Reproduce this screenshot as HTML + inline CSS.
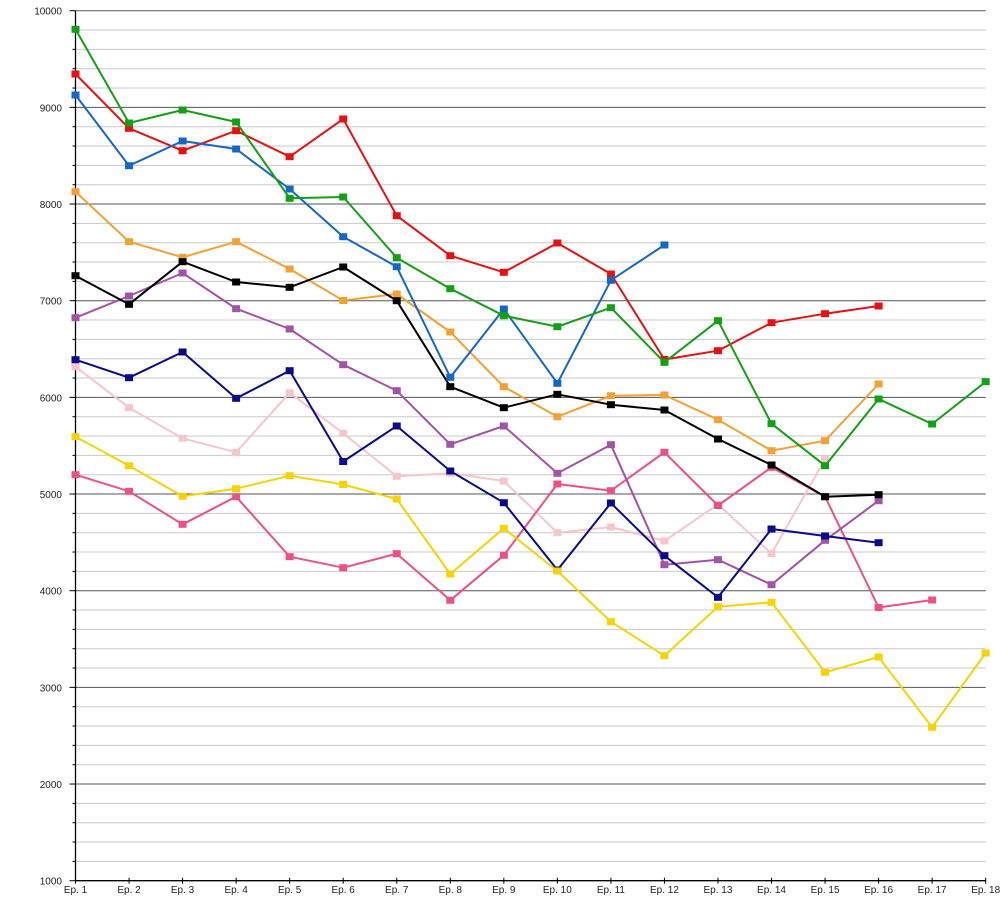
<!DOCTYPE html>
<html>
<head>
<meta charset="utf-8">
<style>
  html, body { margin: 0; padding: 0; background: #fff; }
  svg { display: block; }
  text { font-family: "Liberation Sans", "DejaVu Sans", sans-serif; fill: #222; }
</style>
</head>
<body>
<svg id="chart" width="1000" height="900" viewBox="0 0 1000 900" xmlns="http://www.w3.org/2000/svg">
  <rect x="0" y="0" width="1000" height="900" fill="#ffffff"/>
  <g id="grid"></g>
  <g id="axes"></g>
  <g id="series"></g>
  <g id="labels"></g>
</svg>
<script>
(function(){
  var NS = "http://www.w3.org/2000/svg";
  function el(name, attrs, parent, txt){
    var e = document.createElementNS(NS, name);
    for (var k in attrs) e.setAttribute(k, attrs[k]);
    if (txt !== undefined) e.textContent = txt;
    parent.appendChild(e);
    return e;
  }
  var grid = document.getElementById('grid');
  var axes = document.getElementById('axes');
  var series = document.getElementById('series');
  var labels = document.getElementById('labels');

  var x0 = 75.5, xr = 985.7, dx = 53.54;
  var yTop = 10.7, yBot = 880.7;
  var per = (yBot - yTop) / 9000; // px per unit

  function Y(v){ return yBot - (v - 1000) * per; }
  function X(i){ return x0 + i * dx; }

  // minor gridlines every 200
  for (var v = 1200; v < 10000; v += 200) {
    if (v % 1000 === 0) continue;
    var y = Y(v);
    el('line', {x1: x0, x2: xr, y1: y, y2: y, stroke: '#c9c9c9', 'stroke-width': 1}, grid);
    el('line', {x1: x0 - 3, x2: x0, y1: y, y2: y, stroke: '#000', 'stroke-width': 1}, axes);
  }
  // major gridlines
  for (var v = 1000; v <= 10000; v += 1000) {
    var y = Y(v);
    if (v > 1000) el('line', {x1: x0, x2: xr, y1: y, y2: y, stroke: '#555', 'stroke-width': 1}, grid);
    el('line', {x1: x0 - 6, x2: x0, y1: y, y2: y, stroke: '#000', 'stroke-width': 1}, axes);
    el('text', {x: 62, y: y + 4, 'font-size': 10, 'text-anchor': 'end'}, labels, String(v));
  }
  // axes
  el('line', {x1: x0, x2: x0, y1: yTop, y2: yBot, stroke: '#000', 'stroke-width': 1.3}, axes);
  el('line', {x1: x0, x2: xr, y1: yBot, y2: yBot, stroke: '#000', 'stroke-width': 1.3}, axes);
  // x ticks and labels
  for (var i = 0; i < 18; i++) {
    var x = X(i);
    el('line', {x1: x, x2: x, y1: yBot - 3, y2: yBot + 3, stroke: '#000', 'stroke-width': 1}, axes);
    el('text', {x: x, y: 893, 'font-size': 10, 'text-anchor': 'middle'}, labels, 'Ep. ' + (i + 1));
  }

  var data = [
    ['#f7c6cb', [366.7,407.7,438.3,452.3,392.7,433.3,476.3,473.3,481,532.7,527,541,504.3,553.7,459]],
    ['#ee4f87', [474.7,491.3,524.3,496.7,556.7,567.7,553.7,600.3,555.3,484,490.7,452.3,505.5,467.3,496.7,607.5,600]],
    ['#a352a8', [317.7,296,273,308.7,329,364.7,390.7,444.3,426,473.3,444.7,564.7,559.7,584.7,540.3,500.7]],
    ['#0a0a8c', [359.7,377.7,352,398.3,370.7,461.5,426,471,502.7,570,503,555.7,597.3,529,536,542.7]],
    ['#f7d300', [436.7,465.7,496.3,488.7,475.7,484.5,499,574,528.3,571,621.7,655.7,606.7,602.3,672.3,657,727.3,653]],
    ['#f5a033', [191.7,241.7,257.3,241.7,269,300.5,294,332,386.7,416.7,395.7,395,419.7,450.7,440.7,384]],
    ['#000000', [275.7,304.3,261.7,282,287.3,267,300.7,386.7,407.7,394.3,404.7,410,439,465,496.7,494.7]],
    ['#e81010', [74,128.3,150.7,130.7,156.7,119,215.7,255.7,272.3,243,274,359.5,350.7,322.7,313.7,306]],
    ['#1467c8', [95,165.7,141,149,189,236.7,266.7,377.3,309,383.3,280.3,245]],
    ['#13a013', [29.3,123,110,122,198.3,197,257.7,288.7,315.7,326.7,307.7,362.3,320.7,423.7,465.7,399,424,381.7]]
  ];

  data.forEach(function(s){
    var col = s[0], ys = s[1];
    var pts = ys.map(function(y, i){ return X(i).toFixed(1) + ',' + y; }).join(' ');
    var g = el('g', {}, series);
    el('polyline', {points: pts, fill: 'none', stroke: col, 'stroke-width': 2, 'stroke-linejoin': 'round'}, g);
    ys.forEach(function(y, i){
      el('rect', {x: X(i) - 4, y: y - 3.5, width: 8, height: 7, fill: col}, g);
    });
  });
})();
</script>
</body>
</html>
